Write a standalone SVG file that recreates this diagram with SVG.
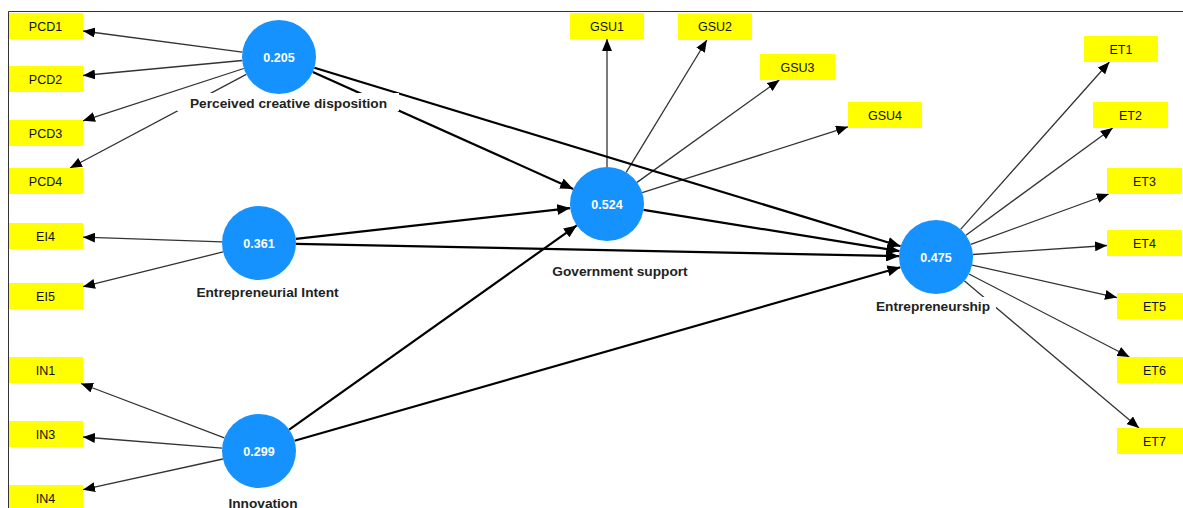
<svg xmlns="http://www.w3.org/2000/svg" width="1183" height="508" viewBox="0 0 1183 508">
<style>
.ind rect{fill:#ffff00}
.ind text{font-family:"Liberation Sans",Arial,sans-serif;font-size:12.5px;fill:#111;text-anchor:middle}
.lv circle{fill:#1592fd}
.lv .val{font-family:"Liberation Sans",Arial,sans-serif;font-size:12.5px;font-weight:bold;fill:#fff;text-anchor:middle}
.lv .lbl{font-family:"Liberation Sans",Arial,sans-serif;font-size:13.7px;font-weight:bold;fill:#222;text-anchor:middle}
.lv .bg{fill:#fff}
.m{stroke:#333;stroke-width:1.3;fill:none;marker-end:url(#ah)}
.s{stroke:#000;stroke-width:2.2;fill:none;marker-end:url(#ahs)}
</style>
<defs>
<marker id="ah" markerUnits="userSpaceOnUse" markerWidth="12" markerHeight="10" refX="12" refY="5" orient="auto"><path d="M0,0 L12,5 L0,10 z" fill="#000"/></marker>
<marker id="ahs" markerUnits="userSpaceOnUse" markerWidth="13" markerHeight="11" refX="13" refY="5.5" orient="auto"><path d="M0,0 L13,5.5 L0,11 z" fill="#000"/></marker>
</defs>
<rect width="1183" height="508" fill="#fff"/>
<path d="M8.5,508 V11.5 H1183" stroke="#333" stroke-width="1" fill="none"/>
<g id="connectors">
<line class="m" x1="242.3" y1="52.1" x2="83" y2="31"/>
<line class="m" x1="242.2" y1="60.5" x2="83" y2="75.5"/>
<line class="m" x1="243.8" y1="68.5" x2="83" y2="120.8"/>
<line class="m" x1="246.3" y1="74.4" x2="70" y2="168"/>
<line class="m" x1="222" y1="241.8" x2="83" y2="237.2"/>
<line class="m" x1="223.1" y1="251.9" x2="83" y2="286.7"/>
<line class="m" x1="224.4" y1="437.9" x2="81" y2="383.5"/>
<line class="m" x1="222.1" y1="448.1" x2="83" y2="437"/>
<line class="m" x1="222.9" y1="459" x2="83" y2="489.7"/>
<line class="m" x1="607" y1="167" x2="607" y2="39"/>
<line class="m" x1="626.2" y1="172.4" x2="706.8" y2="40"/>
<line class="m" x1="637" y1="182.4" x2="779.4" y2="80"/>
<line class="m" x1="642.2" y1="192.7" x2="848" y2="126.8"/>
<line class="m" x1="960.6" y1="229.4" x2="1109.4" y2="62"/>
<line class="m" x1="965.9" y1="235.2" x2="1112.7" y2="128"/>
<line class="m" x1="970.8" y1="244.3" x2="1108.8" y2="194"/>
<line class="m" x1="972.9" y1="254.5" x2="1107" y2="245.5"/>
<line class="m" x1="972.1" y1="265.1" x2="1117" y2="297.6"/>
<line class="m" x1="968.9" y1="274" x2="1129.4" y2="357"/>
<line class="m" x1="964.3" y1="280.8" x2="1139" y2="428"/>
<line class="s" x1="312.8" y1="72.1" x2="573.2" y2="188.9"/>
<line class="s" x1="314.4" y1="67.8" x2="900.6" y2="246.2"/>
<line class="s" x1="295.8" y1="238.9" x2="570.2" y2="208.1"/>
<line class="s" x1="296" y1="243.8" x2="899" y2="256.2"/>
<line class="s" x1="289.2" y1="429.6" x2="576.8" y2="225.4"/>
<line class="s" x1="294.6" y1="440.8" x2="900.4" y2="267.2"/>
<line class="s" x1="643.5" y1="209.9" x2="899.5" y2="251.1"/>
</g>
<g id="PCD" class="lv"><rect class="bg" x="177" y="93" width="222" height="18"/><circle cx="279" cy="57" r="37"/><text class="val" x="279" y="61.5">0.205</text><text class="lbl" x="288.5" y="107.5">Perceived creative disposition</text></g>
<g id="EI" class="lv"><circle cx="259" cy="243" r="37"/><text class="val" x="259" y="247.5">0.361</text><text class="lbl" x="267.5" y="297">Entrepreneurial Intent</text></g>
<g id="IN" class="lv"><circle cx="259" cy="451" r="37"/><text class="val" x="259" y="455.5">0.299</text><text class="lbl" x="263" y="507.5">Innovation</text></g>
<g id="GS" class="lv"><circle cx="607" cy="204" r="37"/><text class="val" x="607" y="208.5">0.524</text><text class="lbl" x="620" y="276">Government support</text></g>
<g id="ET" class="lv"><rect class="bg" x="872" y="297" width="124" height="18"/><circle cx="936" cy="257" r="37"/><text class="val" x="936" y="261.5">0.475</text><text class="lbl" x="933" y="311">Entrepreneurship</text></g>
<g id="PCD1" class="ind"><rect x="9" y="13" width="74" height="26"/><text x="45.5" y="30.5">PCD1</text></g>
<g id="PCD2" class="ind"><rect x="9" y="66" width="74" height="26"/><text x="45.5" y="83.5">PCD2</text></g>
<g id="PCD3" class="ind"><rect x="9" y="120" width="74" height="26"/><text x="45.5" y="137.5">PCD3</text></g>
<g id="PCD4" class="ind"><rect x="9" y="168" width="74" height="26"/><text x="45.5" y="185.5">PCD4</text></g>
<g id="EI4" class="ind"><rect x="9" y="223" width="74" height="26"/><text x="45.5" y="240.5">EI4</text></g>
<g id="EI5" class="ind"><rect x="9" y="283" width="74" height="26"/><text x="45.5" y="300.5">EI5</text></g>
<g id="IN1" class="ind"><rect x="9" y="357" width="74" height="26"/><text x="45.5" y="374.5">IN1</text></g>
<g id="IN3" class="ind"><rect x="9" y="421" width="74" height="26"/><text x="45.5" y="438.5">IN3</text></g>
<g id="IN4" class="ind"><rect x="9" y="485" width="74" height="26"/><text x="45.5" y="502.5">IN4</text></g>
<g id="GSU1" class="ind"><rect x="570" y="13" width="74" height="26"/><text x="607" y="30.5">GSU1</text></g>
<g id="GSU2" class="ind"><rect x="678" y="13.5" width="74" height="26.5"/><text x="715" y="31">GSU2</text></g>
<g id="GSU3" class="ind"><rect x="760" y="54" width="75" height="26"/><text x="797.5" y="71.5">GSU3</text></g>
<g id="GSU4" class="ind"><rect x="848" y="102" width="74" height="26"/><text x="885" y="119.5">GSU4</text></g>
<g id="ET1" class="ind"><rect x="1084" y="36" width="74" height="26"/><text x="1121" y="53.5">ET1</text></g>
<g id="ET2" class="ind"><rect x="1093" y="102" width="75" height="26"/><text x="1130.5" y="119.5">ET2</text></g>
<g id="ET3" class="ind"><rect x="1107" y="168" width="75" height="26"/><text x="1144.5" y="185.5">ET3</text></g>
<g id="ET4" class="ind"><rect x="1107" y="230" width="75" height="26"/><text x="1144.5" y="247.5">ET4</text></g>
<g id="ET5" class="ind"><rect x="1117" y="293" width="75" height="26"/><text x="1154.5" y="310.5">ET5</text></g>
<g id="ET6" class="ind"><rect x="1117" y="357" width="75" height="26"/><text x="1154.5" y="374.5">ET6</text></g>
<g id="ET7" class="ind"><rect x="1117" y="428" width="75" height="26"/><text x="1154.5" y="445.5">ET7</text></g>
</svg>
